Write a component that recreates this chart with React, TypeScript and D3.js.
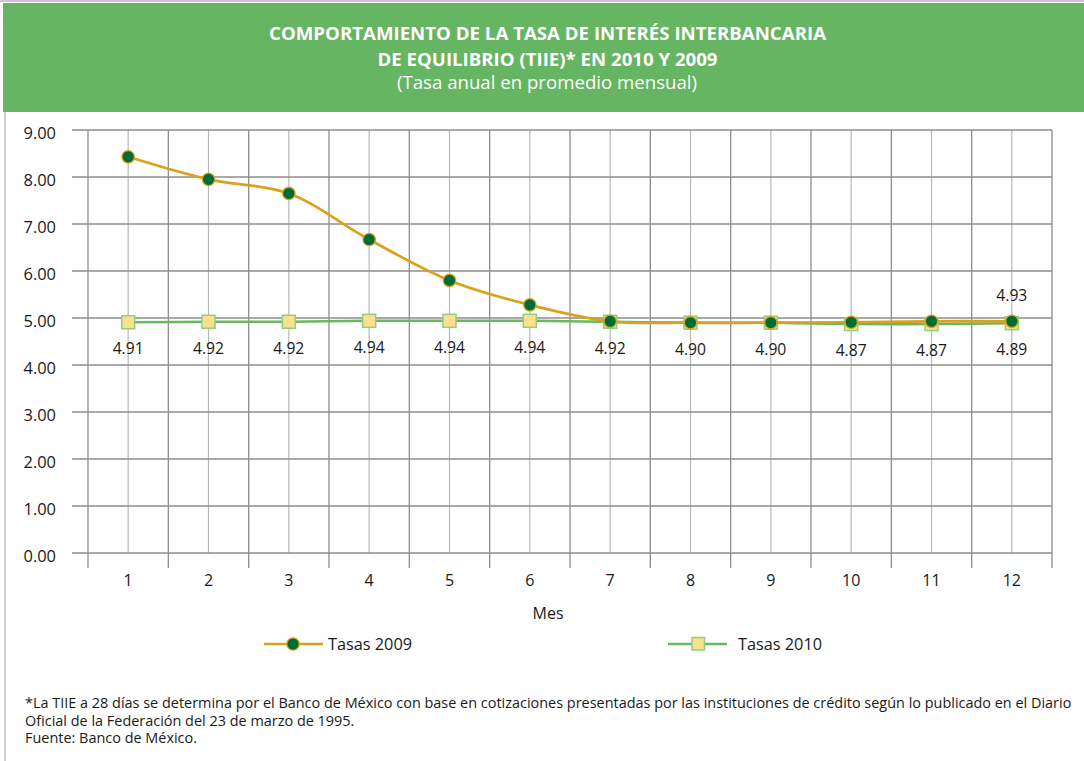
import React, { useLayoutEffect, useRef, useState } from "react";
import * as d3 from "d3";

const months = ["1", "2", "3", "4", "5", "6", "7", "8", "9", "10", "11", "12"];
const tasas2009 = [8.43, 7.95, 7.65, 6.67, 5.8, 5.28, 4.93, 4.9, 4.9, 4.91, 4.93, 4.93];
const tasas2010 = [4.91, 4.92, 4.92, 4.94, 4.94, 4.94, 4.92, 4.9, 4.9, 4.87, 4.87, 4.89];
const yTicks = [0, 1, 2, 3, 4, 5, 6, 7, 8, 9];
const titleLines = [
  "COMPORTAMIENTO DE LA TASA DE INTERÉS INTERBANCARIA",
  "DE EQUILIBRIO (TIIE)* EN 2010 Y 2009",
];
const subtitle = "(Tasa anual en promedio mensual)";
const footLines = [
  "*La TIIE a 28 días se determina por el Banco de México con base en cotizaciones presentadas por las instituciones de crédito según lo publicado en el Diario",
  "Oficial de la Federación del 23 de marzo de 1995.",
  "Fuente: Banco de México.",
];
const series = [
  { name: "Tasas 2010", values: tasas2010 },
  { name: "Tasas 2009", values: tasas2009 },
];

const W = 1084;
const H = 761;
const FONT = "'Open Sans', 'DejaVu Sans', sans-serif";

export default function App() {
  const left = 88, right = 1052, top = 130, bottom = 553;
  const x = d3.scaleBand<string>().domain(months).range([left, right]).padding(0);
  const y = d3.scaleLinear().domain([0, 9]).range([bottom, top]);
  const cx = (i: number) => (x(months[i]) as number) + x.bandwidth() / 2;
  const line = d3
    .line<number>()
    .x((_, i) => cx(i))
    .y((d) => y(d))
    .curve(d3.curveCatmullRom.alpha(0.5));

  const footRef = useRef<SVGTextElement | null>(null);
  const [footScale, setFootScale] = useState(0.85);
  useLayoutEffect(() => {
    if (footRef.current) {
      const len = footRef.current.getComputedTextLength();
      if (len > 0) setFootScale(1045 / len);
    }
  }, []);

  const gold = "#d9a21b";
  const green = "#66b95c";
  const darkGreen = "#006c35";
  const squareFill = "#fde08e";
  const boundaries = months.map((m) => x(m) as number).concat([right]);
  const txt = "#1a1a1a";

  return (
    <div style={{ position: "absolute", left: 0, top: 0 }}>
      <svg width={W} height={H} style={{ display: "block", fontFamily: FONT }}>
        <rect x={0} y={0} width={W} height={H} fill="#ffffff" />
        <line x1={0} x2={W} y1={1} y2={1} stroke="#c9c9c9" strokeWidth={2} />
        <line x1={5} x2={5} y1={112} y2={H} stroke="#cfcfcf" strokeWidth={2} />
        <rect x={3} y={3} width={W - 3} height={109} fill="#66b562" />
        {titleLines.map((t, i) => (
          <text
            key={t}
            x={547.5}
            y={40 + i * 25.7}
            textAnchor="middle"
            fill="#fff"
            fontSize={18.5}
            fontWeight="bold"
            textLength={[557, 340][i]}
            lengthAdjust="spacingAndGlyphs"
          >
            {t}
          </text>
        ))}
        <text x={547} y={89} textAnchor="middle" fill="#fff" fontSize={19} textLength={300} lengthAdjust="spacingAndGlyphs">
          {subtitle}
        </text>

        {/* center gridlines */}
        {months.map((m, i) => (
          <line key={"c" + m} x1={cx(i)} x2={cx(i)} y1={top} y2={bottom} stroke="#b8b8b8" strokeWidth={1.2} />
        ))}
        {/* boundary gridlines and ticks */}
        {boundaries.map((b, i) => (
          <line key={"b" + i} x1={b} x2={b} y1={top} y2={bottom + 15} stroke="#8e8e8e" strokeWidth={1.3} />
        ))}
        {/* horizontal gridlines */}
        {yTicks.map((t) => (
          <g key={"y" + t}>
            <line x1={left - 16} x2={right} y1={y(t)} y2={y(t)} stroke="#8e8e8e" strokeWidth={1.3} />
            <text x={56} y={y(t) + 9} textAnchor="end" fontSize={16} fill={txt} textLength={32.5} lengthAdjust="spacingAndGlyphs">
              {t.toFixed(2)}
            </text>
          </g>
        ))}
        {months.map((m, i) => (
          <text key={"xl" + m} x={cx(i)} y={586} textAnchor="middle" fontSize={16} fill={txt}>
            {m}
          </text>
        ))}
        <text x={548} y={619} textAnchor="middle" fontSize={16} fill={txt}>
          Mes
        </text>

        {/* series */}
        <path d={line(tasas2010) || ""} fill="none" stroke={green} strokeWidth={2.5} />
        {tasas2010.map((v, i) => (
          <rect key={"s" + i} x={cx(i) - 6.5} y={y(v) - 6.5} width={13} height={13} fill={squareFill} stroke="#8fcf7f" strokeWidth={1.5} />
        ))}
        <path d={line(tasas2009) || ""} fill="none" stroke={gold} strokeWidth={2.7} />
        {tasas2009.map((v, i) => (
          <circle key={"c" + i} cx={cx(i)} cy={y(v)} r={6.2} fill={darkGreen} stroke={gold} strokeWidth={1.3} />
        ))}
        {tasas2010.map((v, i) => (
          <text key={"l10" + i} x={cx(i)} y={y(v) + 32} textAnchor="middle" fontSize={16.5} fill={txt} textLength={31} lengthAdjust="spacingAndGlyphs">
            {v.toFixed(2)}
          </text>
        ))}
        <text x={cx(11)} y={y(tasas2009[11]) - 20} textAnchor="middle" fontSize={16.5} fill={txt} textLength={31} lengthAdjust="spacingAndGlyphs">
          {tasas2009[11].toFixed(2)}
        </text>

        {/* legend */}
        <g transform="translate(264,644)">
          <line x1={0} x2={59} y1={0} y2={0} stroke={gold} strokeWidth={2.7} />
          <circle cx={29} cy={0} r={6.2} fill={darkGreen} stroke={gold} strokeWidth={1.3} />
          <text x={64} y={6} fontSize={17} fill={txt} textLength={84} lengthAdjust="spacingAndGlyphs">{series[1].name}</text>
        </g>
        <g transform="translate(668,644)">
          <line x1={0} x2={59} y1={0} y2={0} stroke={green} strokeWidth={2.5} />
          <rect x={24} y={-6.5} width={12.5} height={12.5} fill={squareFill} stroke="#8fcf7f" strokeWidth={1.5} />
          <text x={70} y={6} fontSize={17} fill={txt} textLength={84} lengthAdjust="spacingAndGlyphs">{series[0].name}</text>
        </g>

        {/* footnote */}
        <g transform={`translate(25,0) scale(${footScale},1)`}>
          {footLines.map((t, i) => (
            <text
              key={"f" + i}
              ref={i === 0 ? footRef : undefined}
              x={0}
              y={[708, 726, 743][i]}
              fontSize={14.5}
              fill={txt}
            >
              {t}
            </text>
          ))}
        </g>
      </svg>
    </div>
  );
}
